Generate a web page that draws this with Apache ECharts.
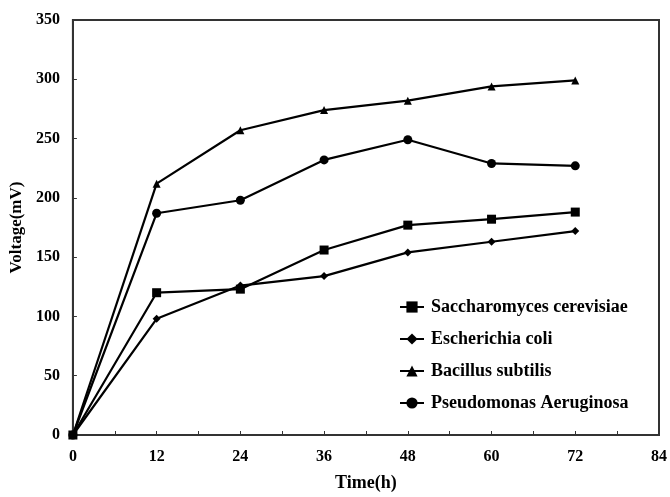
<!DOCTYPE html>
<html>
<head>
<meta charset="utf-8">
<script src="https://cdn.jsdelivr.net/npm/echarts@6/dist/echarts.min.js"></script>
<style>html,body{margin:0;padding:0;background:#fff}#c{width:670px;height:497px}</style>
</head>
<body>
<div id="c"></div>
<script>
const timeH = [0, 12, 24, 36, 48, 60, 72];
const saccharomyces = [0, 120, 123, 156, 177, 182, 188];
const ecoli = [0, 98, 126, 134, 154, 163, 172];
const bacillus = [0, 212, 257, 274, 282, 294, 299];
const pseudomonas = [0, 187, 198, 232, 249, 229, 227];
const seriesNames = ['Saccharomyces cerevisiae', 'Escherichia coli', 'Bacillus subtilis', 'Pseudomonas Aeruginosa'];

const font = 'Liberation Serif, Times New Roman, serif';
function pairs(arr){ return timeH.map((t,i)=>[t, arr[i]]); }
function mk(name, arr, sym, size){
  return {name, type:'line', data:pairs(arr), symbol:sym, symbolSize:size,
    lineStyle:{color:'#000', width:2.2}, itemStyle:{color:'#000'}, animation:false};
}
const chart = echarts.init(document.getElementById('c'));
chart.setOption({
  backgroundColor:'#fff',
  animation:false,
  grid:{left:71, right:10, top:20, bottom:57, show:true, borderColor:'#333', borderWidth:2},
  legend:{orient:'vertical', left:394, top:293, itemGap:14, itemWidth:24, itemHeight:14,
    textStyle:{fontFamily:font, fontWeight:'bold', fontSize:18, color:'#000', padding:[0,0,0,2]},
    data:seriesNames},
  xAxis:{type:'value', min:0, max:84, interval:6,
    name:'Time(h)', nameLocation:'middle', nameGap:39,
    nameTextStyle:{fontFamily:font, fontWeight:'bold', fontSize:18, color:'#000'},
    axisLine:{lineStyle:{color:'#333', width:2}},
    axisTick:{inside:true, length:4, lineStyle:{color:'#333'}},
    splitLine:{show:false},
    axisLabel:{fontFamily:font, fontWeight:'bold', fontSize:16, color:'#000', margin:14,
      formatter:v => (v % 12 === 0 ? String(v) : '')}},
  yAxis:{type:'value', min:0, max:350, interval:50,
    name:'Voltage(mV)', nameLocation:'middle', nameGap:41, nameRotate:90,
    nameTextStyle:{fontFamily:font, fontWeight:'bold', fontSize:17, color:'#000'},
    axisLine:{lineStyle:{color:'#333', width:2}},
    axisTick:{inside:true, length:4, lineStyle:{color:'#333'}},
    splitLine:{show:false},
    axisLabel:{fontFamily:font, fontWeight:'bold', fontSize:16, color:'#000', margin:13}},
  series:[
    mk(seriesNames[0], saccharomyces, 'rect', 9),
    mk(seriesNames[1], ecoli, 'diamond', 8),
    mk(seriesNames[2], bacillus, 'triangle', 8),
    mk(seriesNames[3], pseudomonas, 'circle', 9)
  ]
});
</script>
</body>
</html>
